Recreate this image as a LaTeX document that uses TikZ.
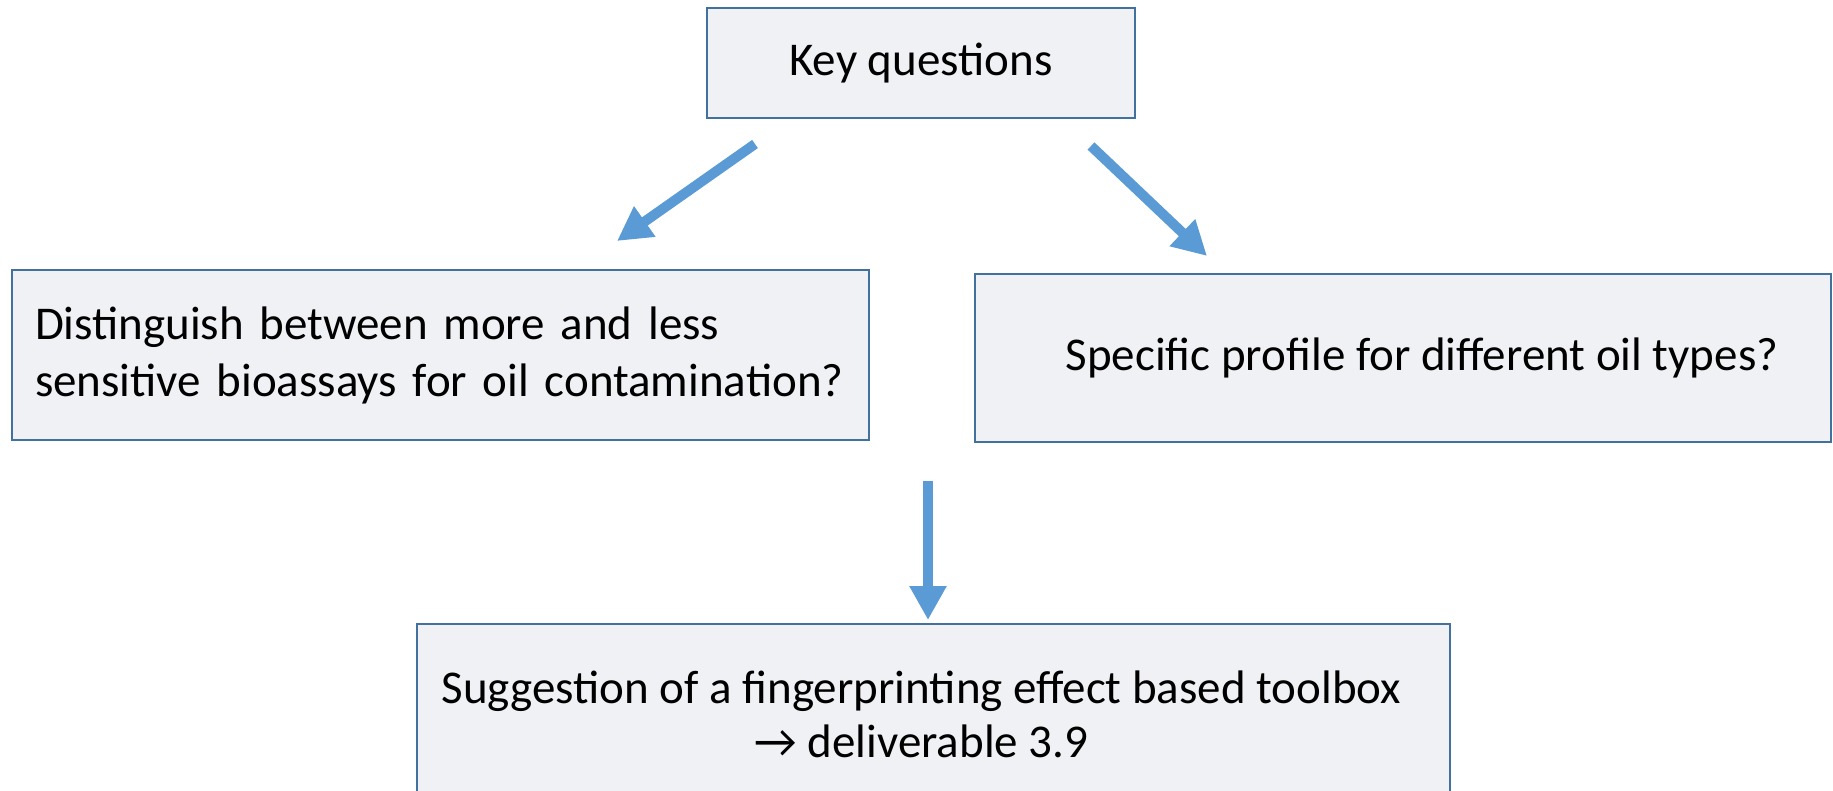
\documentclass[tikz,border=0pt]{standalone}
\usepackage{fontspec}
\setmainfont{Carlito}
\usetikzlibrary{arrows.meta}
\definecolor{boxfill}{HTML}{F0F1F5}
\definecolor{boxline}{HTML}{41719C}
\definecolor{arrowblue}{HTML}{5B9BD5}
\begin{document}
\begin{tikzpicture}[x=1pt,y=-1pt,
  qbox/.style={draw=boxline, fill=boxfill, line width=2.5pt, rectangle, inner sep=0pt,
    font=\fontsize{47}{57}\selectfont},
  bigarrow/.style={draw=arrowblue, line width=10pt,
    -{Triangle[width=35pt,length=34pt]}, arrowblue}]
\useasboundingbox (0,0) rectangle (1833,790);
\node[qbox, minimum width=428pt, minimum height=110pt] (key) at (921,63) {Key questions};
\node[qbox, minimum width=857pt, minimum height=170pt, text width=811pt, inner xsep=23pt, align=left] (left) at (440.5,355)
  {Distinguish between more and less\\sensitive bioassays for oil contamination?};
\node[qbox, minimum width=856pt, minimum height=168pt] (right) at (1403,358)
  {\hspace*{38pt}Specific profile for different oil types?};
\node[qbox, minimum width=1033pt, minimum height=180pt, align=center] (bottom) at (933.5,714)
  {Suggestion of a fingerprinting effect based toolbox\hspace*{24pt}\\[-3pt]→ deliverable 3.9\hspace*{24pt}};
\coordinate (l1) at (755,144);
\coordinate (l2) at (617,241);
\coordinate (r1) at (1091,146);
\coordinate (r2) at (1207,256);
\coordinate (d1) at (928,481);
\coordinate (d2) at (928,620);
\draw[bigarrow] (l1) -- (l2);
\draw[bigarrow] (r1) -- (r2);
\draw[bigarrow] (d1) -- (d2);
\end{tikzpicture}
\end{document}
